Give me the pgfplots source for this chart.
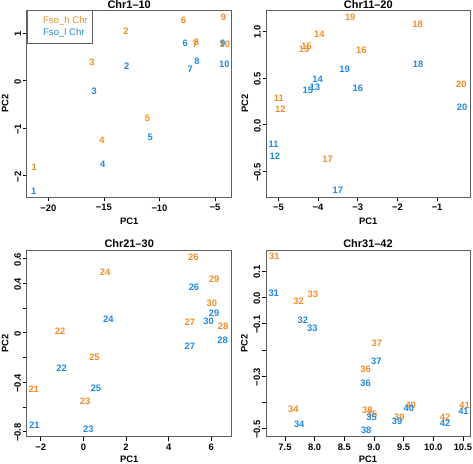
\documentclass[border=0pt]{standalone}
\usepackage{pgfplots}
\pgfplotsset{compat=1.18}
\usepackage{pgfplotstable}
\usepackage{fontspec}
\setmainfont{Liberation Sans}
\definecolor{fsoh}{RGB}{240,140,40}
\definecolor{fsol}{RGB}{30,136,229}
\definecolor{boxgray}{RGB}{95,95,95}

% Panel 1: Chr1-10
\pgfplotstableread{
x y l
-21.26 -1.82 1
-13.00 1.04 2
-16.06 0.39 3
-15.16 -1.26 4
-11.08 -0.80 5
-7.84 1.27 6
-6.80 0.77 7
-6.66 0.80 8
-4.25 1.33 9
-4.12 0.76 10
}\pAh
\pgfplotstableread{
x y l
-21.30 -2.33 1
-12.94 0.31 2
-15.86 -0.23 3
-15.10 -1.75 4
-10.84 -1.19 5
-7.68 0.78 6
-7.23 0.24 7
-6.63 0.41 8
-4.30 0.79 9
-4.17 0.35 10
}\pAl
% Panel 2: Chr11-20
\pgfplotstableread{
x y l
-4.99 0.28 11
-4.95 0.17 12
-4.35 0.80 13
-3.97 0.97 14
-4.29 0.84 15
-2.91 0.79 16
-3.76 -0.37 17
-1.49 1.07 18
-3.19 1.15 19
-0.39 0.43 20
}\pBh
\pgfplotstableread{
x y l
-5.12 -0.21 11
-5.09 -0.34 12
-4.08 0.40 13
-4.01 0.49 14
-4.26 0.37 15
-3.00 0.39 16
-3.50 -0.70 17
-1.48 0.64 18
-3.33 0.59 19
-0.37 0.19 20
}\pBl
% Panel 3: Chr21-30
\pgfplotstableread{
x y l
-2.33 -0.46 21
-1.09 0.016 22
0.08 -0.55 23
1.02 0.49 24
0.52 -0.20 25
5.16 0.61 26
5.00 0.083 27
6.56 0.054 28
6.13 0.43 29
6.03 0.24 30
}\pCh
\pgfplotstableread{
x y l
-2.30 -0.75 21
-1.02 -0.29 22
0.23 -0.78 23
1.17 0.11 24
0.59 -0.45 25
5.19 0.37 26
5.00 -0.11 27
6.53 -0.06 28
6.13 0.16 29
5.88 0.09 30
}\pCl
% Panel 4: Chr31-42
\pgfplotstableread{
x y l
7.32 0.158 31
7.73 -0.013 32
7.97 0.013 33
7.64 -0.425 34
8.97 -0.447 35
8.86 -0.273 36
9.05 -0.176 37
8.89 -0.430 38
9.43 -0.456 39
9.62 -0.411 40
10.53 -0.411 41
10.20 -0.456 42
}\pDh
\pgfplotstableread{
x y l
7.31 0.015 31
7.80 -0.088 32
7.96 -0.118 33
7.74 -0.485 34
8.96 -0.456 35
8.86 -0.329 36
9.04 -0.243 37
8.87 -0.506 38
9.39 -0.471 39
9.59 -0.424 40
10.51 -0.433 41
10.20 -0.478 42
}\pDl

\pgfplotsset{
  panel/.style={
    scale only axis,
    axis line style={draw=boxgray, line width=0.9bp},
    tick pos=left,
    tick align=outside,
    major tick length=4bp,
    every tick/.style={black, line width=0.7bp},
    tick label style={font=\fontsize{9.4}{10}\selectfont\bfseries, inner sep=1.5bp},
    xticklabel style={yshift=-1.5bp},
    yticklabel style={rotate=90, anchor=south, xshift=-1bp},
    clip=false,
  },
  lbl/.style={draw=none, mark=none, nodes near coords, point meta=explicit symbolic,
    every node near coord/.append style={anchor=center, inner sep=0pt, text=#1, font=\fontsize{9.4}{10}\selectfont\bfseries}},
}

\begin{document}
\begin{tikzpicture}[x=1bp,y=1bp]
\useasboundingbox (0,0) rectangle (473,464);

% ---------- Panel 1 ----------
\begin{axis}[panel, at={(26.7bp,266.7bp)}, anchor=south west,
  width=205bp, height=187.3bp,
  xmin=-21.94, xmax=-3.5, ymin=-2.45, ymax=1.48,
  xtick={-20,-15,-10,-5}, xticklabels={−20,−15,−10,−5},
  ytick={-2,-1,0,1}, yticklabels={−2,−1,0,1},
  legend style={at={(0,1)}, anchor=north west, draw=boxgray, line width=0.9bp,
    font=\fontsize{9.6}{10}\selectfont, inner xsep=4bp, inner ysep=5.5bp, row sep=1.5bp,
    nodes={inner sep=1bp}},
  legend cell align=left,
  legend image code/.code={\path (0bp,0bp) rectangle (11bp,0bp);},
  ]
\addplot[lbl=fsoh] table[x=x,y=y,meta=l]{\pAh};
\addlegendentry{\textcolor{fsoh}{Fso\_h Chr}}
\addplot[lbl=fsol] table[x=x,y=y,meta=l]{\pAl};
\addlegendentry{\textcolor{fsol}{Fso\_l Chr}}
\end{axis}

% ---------- Panel 2 ----------
\begin{axis}[panel, at={(266.5bp,267bp)}, anchor=south west,
  width=203.5bp, height=187bp,
  xmin=-5.30, xmax=-0.17, ymin=-0.77, ymax=1.224,
  xtick={-5,-4,-3,-2,-1}, xticklabels={−5,−4,−3,−2,−1},
  ytick={-0.5,0,0.5,1}, yticklabels={−0.5,0.0,0.5,1.0},
  ]
\addplot[lbl=fsoh] table[x=x,y=y,meta=l]{\pBh};
\addplot[lbl=fsol] table[x=x,y=y,meta=l]{\pBl};
\end{axis}

% ---------- Panel 3 ----------
\begin{axis}[panel, at={(26.7bp,27.3bp)}, anchor=south west,
  width=205bp, height=186.7bp,
  xmin=-2.66, xmax=6.96, ymin=-0.84, ymax=0.67,
  xtick={-2,0,2,4,6}, xticklabels={−2,0,2,4,6},
  ytick={-0.8,-0.6,-0.4,-0.2,0,0.2,0.4,0.6}, yticklabels={−0.8,,−0.4,,0,,0.4,0.6},
  ]
\addplot[lbl=fsoh] table[x=x,y=y,meta=l]{\pCh};
\addplot[lbl=fsol] table[x=x,y=y,meta=l]{\pCl};
\end{axis}

% ---------- Panel 4 ----------
\begin{axis}[panel, at={(266bp,27.3bp)}, anchor=south west,
  width=204bp, height=186.7bp,
  xmin=7.18, xmax=10.62, ymin=-0.531, ymax=0.181,
  xtick={7.5,8,8.5,9,9.5,10,10.5}, xticklabels={7.5,8.0,8.5,9.0,9.5,10.0,10.5},
  ytick={-0.5,-0.4,-0.3,-0.2,-0.1,0,0.1}, yticklabels={−0.5,,−0.3,,−0.1,0.0,0.1},
  ]
\addplot[lbl=fsoh] table[x=x,y=y,meta=l]{\pDh};
\addplot[lbl=fsol] table[x=x,y=y,meta=l]{\pDl};
\end{axis}

% ---------- titles and axis labels ----------
\begin{scope}[every node/.style={inner sep=0pt}]
\node[anchor=base, font=\fontsize{11}{12}\selectfont\bfseries] at (129.2,455) {Chr1–10};
\node[anchor=base, font=\fontsize{11}{12}\selectfont\bfseries] at (368.3,455) {Chr11–20};
\node[anchor=base, font=\fontsize{11}{12}\selectfont\bfseries] at (129.2,216) {Chr21–30};
\node[anchor=base, font=\fontsize{11}{12}\selectfont\bfseries] at (368.0,216) {Chr31–42};

\node[anchor=base, font=\fontsize{9.4}{10}\selectfont\bfseries] at (129.2,239) {PC1};
\node[anchor=base, font=\fontsize{9.4}{10}\selectfont\bfseries] at (368.3,239) {PC1};
\node[anchor=base, font=\fontsize{9.4}{10}\selectfont\bfseries] at (129.2,1.2) {PC1};
\node[anchor=base, font=\fontsize{9.4}{10}\selectfont\bfseries] at (368.0,1.2) {PC1};

\node[anchor=base, rotate=90, font=\fontsize{9.4}{10}\selectfont\bfseries] at (8.3,360.4) {PC2};
\node[anchor=base, rotate=90, font=\fontsize{9.4}{10}\selectfont\bfseries] at (248.1,360.5) {PC2};
\node[anchor=base, rotate=90, font=\fontsize{9.4}{10}\selectfont\bfseries] at (8.3,120.7) {PC2};
\node[anchor=base, rotate=90, font=\fontsize{9.4}{10}\selectfont\bfseries] at (247.6,120.7) {PC2};
\end{scope}
\end{tikzpicture}
\end{document}
